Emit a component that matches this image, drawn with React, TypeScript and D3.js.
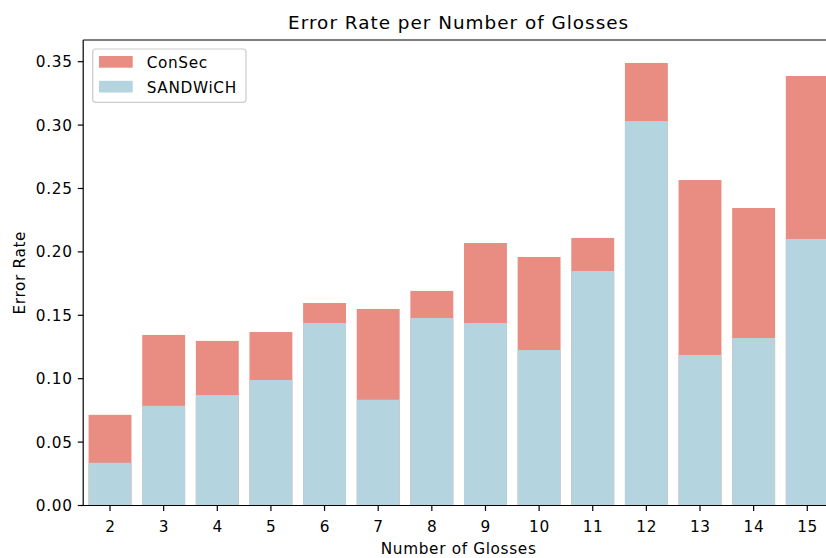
import React from "react";
import * as d3 from "d3";

const glosses = ["2", "3", "4", "5", "6", "7", "8", "9", "10", "11", "12", "13", "14", "15"];
const consec = [0.0715, 0.1345, 0.1298, 0.1368, 0.1597, 0.155, 0.1692, 0.207, 0.196, 0.211, 0.349, 0.2567, 0.2346, 0.3387];
const sandwich = [0.0337, 0.0786, 0.0871, 0.099, 0.1439, 0.0834, 0.1479, 0.1439, 0.1226, 0.1849, 0.3032, 0.1187, 0.1321, 0.2102];
const yTicks = [0, 0.05, 0.1, 0.15, 0.2, 0.25, 0.3, 0.35];

const COL_CONSEC = "#e98d82";
const COL_SAND = "#b4d4df";
const FONT = "DejaVu Sans, sans-serif";
const LS = 0.7;

export default function App() {
  const W = 826, H = 558;
  const left = 83.2, right = 834.1, top = 40, bottom = 505.5;
  const x = d3.scaleBand<string>().domain(glosses).range([left, right]).paddingInner(0.2).paddingOuter(0.1);
  const y = d3.scaleLinear().domain([0, 0.3671]).range([bottom, top]);
  const fmt = d3.format(".2f");
  const bw = x.bandwidth();
  const midX = (left + right) / 2;

  return (
    <svg width={W} height={H} style={{ position: "absolute", left: 0, top: 0, background: "#fff" }} fontFamily={FONT}>
      <rect x={0} y={0} width={W} height={H} fill="#fff" />
      {glosses.map((g, i) => (
        <rect key={"c" + g} x={x(g)} y={y(consec[i])} width={bw} height={bottom - y(consec[i])} fill={COL_CONSEC} />
      ))}
      {glosses.map((g, i) => (
        <rect key={"s" + g} x={x(g)} y={y(sandwich[i])} width={bw} height={bottom - y(sandwich[i])} fill={COL_SAND} />
      ))}
      <line x1={left} x2={left} y1={top} y2={bottom} stroke="#000" strokeWidth={1.2} />
      <line x1={left} x2={W + 10} y1={bottom} y2={bottom} stroke="#000" strokeWidth={1.2} />
      <line x1={left} x2={W + 10} y1={top} y2={top} stroke="#000" strokeWidth={1.2} />
      {yTicks.map((t) => (
        <g key={"y" + t}>
          <line x1={left - 5.4} x2={left} y1={y(t)} y2={y(t)} stroke="#000" strokeWidth={1.2} />
          <text x={left - 10.6} y={y(t)} dy="0.36em" textAnchor="end" fontSize={15.3} letterSpacing={LS} fill="#000">
            {fmt(t)}
          </text>
        </g>
      ))}
      {glosses.map((g) => {
        const cx = (x(g) as number) + bw / 2;
        return (
          <g key={"x" + g}>
            <line x1={cx} x2={cx} y1={bottom} y2={bottom + 5.4} stroke="#000" strokeWidth={1.2} />
            <text x={cx + LS / 2} y={531.5} textAnchor="middle" fontSize={15.3} letterSpacing={LS} fill="#000">
              {g}
            </text>
          </g>
        );
      })}
      <text x={midX} y={554} textAnchor="middle" fontSize={15.3} letterSpacing={0.65} fill="#000">
        Number of Glosses
      </text>
      <text transform={`translate(25,${(top + bottom) / 2}) rotate(-90)`} textAnchor="middle" fontSize={15.3} letterSpacing={0.65} fill="#000">
        Error Rate
      </text>
      <text x={midX} y={28.5} textAnchor="middle" fontSize={18.4} letterSpacing={1.0} fill="#000">
        Error Rate per Number of Glosses
      </text>
      <rect x={92.7} y={49} width={153.3} height={53.3} rx={3} ry={3} fill="#fff" fillOpacity={0.8} stroke="#cccccc" strokeWidth={1.2} />
      <rect x={99} y={56} width={33.7} height={11.7} fill={COL_CONSEC} />
      <rect x={99} y={80.8} width={33.7} height={11.7} fill={COL_SAND} />
      <text x={146.7} y={68.3} fontSize={15.3} letterSpacing={0.65} fill="#000">ConSec</text>
      <text x={146.7} y={93.2} fontSize={15.3} letterSpacing={0.65} fill="#000">SANDWiCH</text>
    </svg>
  );
}
